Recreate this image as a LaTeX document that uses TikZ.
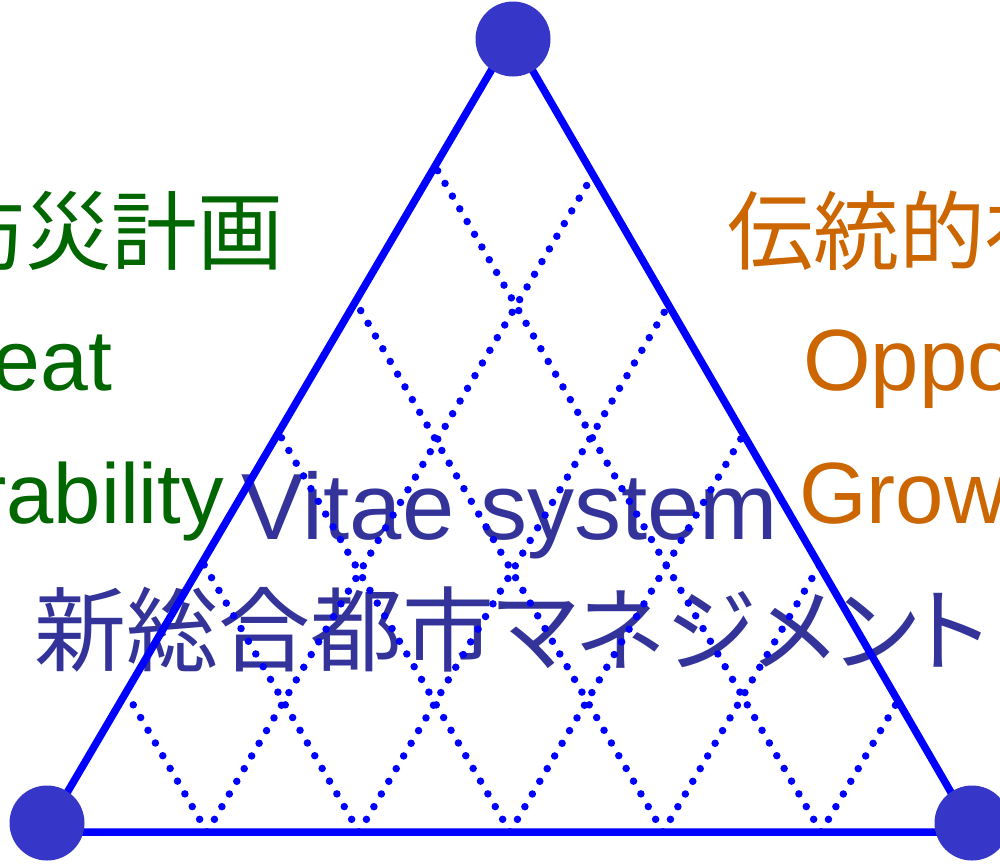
\documentclass[tikz,border=0pt]{standalone}
\usepackage{fontspec}
\setmainfont{Liberation Sans}
\newfontfamily\jpfont[RawFeature=+palt]{Noto Sans CJK JP}
\usetikzlibrary{calc}
\definecolor{triblue}{RGB}{0,0,255}
\definecolor{dotfill}{RGB}{54,54,200}
\definecolor{txtblue}{RGB}{51,51,153}
\definecolor{txtgreen}{RGB}{0,102,0}
\definecolor{txtorange}{RGB}{204,102,0}
\begin{document}
\begin{tikzpicture}[x=1pt,y=-1pt,
  edge/.style={triblue,line width=7.5pt,line cap=round,line join=round},
  gridline/.style={triblue,line width=7.5pt,line cap=round,dash pattern=on 0pt off 14.7pt},
  vertex/.style={circle,fill=dotfill,minimum size=75pt,inner sep=0pt},
  lbl/.style={inner sep=0pt,outer sep=0pt}]
\useasboundingbox (0,0) rectangle (1000,863);
\fill[white] (0,0) rectangle (1000,863);
% left group (green)
\node[lbl,anchor=base east,text=txtgreen,font=\jpfont\fontsize{86}{90}\selectfont] (t1) at (284,263) {防災計画};
\node[lbl,anchor=base east,text=txtgreen,font=\fontsize{86}{90}\selectfont] (t2) at (112,390) {Threat};
\node[lbl,anchor=base east,text=txtgreen,font=\fontsize{85}{90}\selectfont] (t3) at (224,523) {Vulnerability};
% right group (orange)
\node[lbl,anchor=base west,text=txtorange,font=\jpfont\fontsize{86}{90}\selectfont] (t4) at (727,263) {伝統的社会};
\node[lbl,anchor=base west,text=txtorange,font=\fontsize{87}{90}\selectfont] (t5) at (803,390) {Opportunity};
\node[lbl,anchor=base west,text=txtorange,font=\fontsize{87}{90}\selectfont] (t6) at (799,523) {Growth};
% centre
\node[lbl,anchor=base,text=txtblue,font=\fontsize{94}{98}\selectfont] (t7) at (510,539) {Vitae system};
\node[lbl,anchor=base,text=txtblue,font=\jpfont\fontsize{92}{96}\selectfont] (t8) at (511,664) {新総合都市マネジメント};
% triangle geometry
\coordinate (A) at (44,832);
\coordinate (B) at (974,832);
\coordinate (T) at (512,35);
\foreach \b [count=\i] in {207,359,510,663,821} {
  \coordinate (b\i) at (\b,832);
  \pgfmathsetmacro\sl{(\b-44)/930}
  \pgfmathsetmacro\sr{(974-\b)/930}
  \coordinate (l\i) at ($(A)!\sl!(T)$);
  \coordinate (r\i) at ($(B)!\sr!(T)$);
  \draw[gridline] (b\i) -- (l\i);
  \draw[gridline] (b\i) -- (r\i);
}
\draw[edge] (A) -- (B) -- (T) -- cycle;
\node[vertex] (vt) at (513,39) {};
\node[vertex] (vl) at (47,823) {};
\node[vertex] (vr) at (972,823) {};
\end{tikzpicture}
\end{document}
